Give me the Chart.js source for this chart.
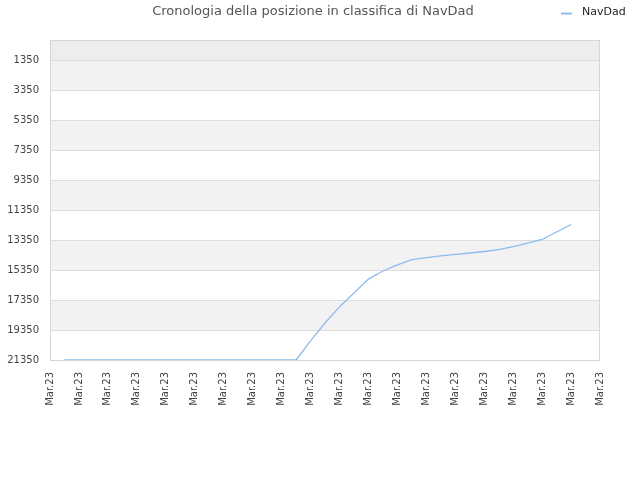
<!DOCTYPE html>
<html>
<head>
<meta charset="utf-8">
<script src="https://cdn.jsdelivr.net/npm/chart.js@4/dist/chart.umd.min.js"></script>
<style>
  html, body { margin: 0; padding: 0; background: #fff; }
  #wrap { width: 640px; height: 480px; }
</style>
</head>
<body>
<div id="wrap"><canvas id="rank-chart" width="640" height="480"></canvas></div>
<script>
// posizione in classifica di NavDad, un punto ogni mezzo tick
const xTickLabels = ['Mar.23','Mar.23','Mar.23','Mar.23','Mar.23','Mar.23','Mar.23','Mar.23','Mar.23','Mar.23',
                     'Mar.23','Mar.23','Mar.23','Mar.23','Mar.23','Mar.23','Mar.23','Mar.23','Mar.23','Mar.23'];
const yTicks = [1350, 3350, 5350, 7350, 9350, 11350, 13350, 15350, 17350, 19350, 21350];
const ranks = [21350, 21350, 21350, 21350, 21350, 21350, 21350, 21350, 21350, 21350,
               21350, 21350, 21350, 21350, 21350, 21350, 21350,
               20080, 18880, 17810, 16880, 15950, 15410, 15010, 14650, 14520,
               14410, 14310, 14210, 14110, 13980, 13780, 13550, 13310, 12810, 12310];
const seriesName = 'NavDad';
const chartTitle = 'Cronologia della posizione in classifica di NavDad';

const FONT = "'DejaVu Sans', sans-serif";
const lineColor = '#8cbcee';

// fasce alternate + cornice del grafico
const bandsPlugin = {
  id: 'bands',
  beforeDraw(chart) {
    const { ctx, chartArea: a, scales: { y } } = chart;
    ctx.save();
    // fascia sopra il primo tick
    ctx.fillStyle = '#ededed';
    ctx.fillRect(a.left, a.top, a.right - a.left, y.getPixelForValue(yTicks[0]) - a.top);
    ctx.fillStyle = '#f2f2f2';
    for (let i = 0; i < yTicks.length - 1; i += 2) {
      const t = y.getPixelForValue(yTicks[i]);
      const b = y.getPixelForValue(yTicks[i + 1]);
      ctx.fillRect(a.left, t, a.right - a.left, b - t);
    }
    ctx.restore();
  },
  afterDatasetsDraw(chart) {
    const { ctx, chartArea: a } = chart;
    ctx.save();
    ctx.strokeStyle = '#d6d6d6';
    ctx.lineWidth = 1;
    ctx.strokeRect(a.left + 0.5, a.top + 0.5, a.right - a.left - 1, a.bottom - a.top);
    ctx.restore();
  }
};

// titolo e legenda sulla stessa riga in alto
const headerPlugin = {
  id: 'header',
  afterDraw(chart) {
    const { ctx } = chart;
    const ds = chart.data.datasets[0];
    ctx.save();
    ctx.textBaseline = 'middle';
    ctx.fillStyle = '#555';
    ctx.font = '13px ' + FONT;
    ctx.textAlign = 'center';
    ctx.fillText(chartTitle, 313, 12);

    ctx.strokeStyle = ds.borderColor;
    ctx.lineWidth = 2;
    ctx.beginPath();
    ctx.moveTo(561, 13.5); ctx.lineTo(572, 13.5);
    ctx.stroke();
    ctx.fillStyle = '#222';
    ctx.font = '11px ' + FONT;
    ctx.textAlign = 'left';
    ctx.fillText(ds.label, 582, 12);
    ctx.restore();
  }
};

new Chart(document.getElementById('rank-chart'), {
  type: 'line',
  data: {
    datasets: [{
      label: seriesName,
      data: ranks.map((v, i) => ({ x: i + 1, y: v })),
      borderColor: lineColor,
      backgroundColor: lineColor,
      borderWidth: 1.3,
      pointRadius: 0,
      tension: 0,
      fill: false,
      clip: false
    }]
  },
  options: {
    responsive: false,
    animation: false,
    layout: { padding: { left: 0, right: 40, top: 40, bottom: 0 } },
    plugins: {
      legend: { display: false },
      tooltip: { enabled: false },
      title: { display: false }
    },
    scales: {
      x: {
        type: 'linear',
        min: 0,
        max: (xTickLabels.length - 1) * 2,
        afterBuildTicks: s => { s.ticks = xTickLabels.map((_, i) => ({ value: i * 2 })); },
        afterFit: s => { s.height = 120; },
        grid: { display: false, drawTicks: false },
        border: { display: false },
        ticks: {
          autoSkip: false,
          minRotation: 90,
          maxRotation: 90,
          padding: 12,
          color: '#444',
          font: { family: FONT, size: 10 },
          callback: (v, i) => xTickLabels[i]
        }
      },
      y: {
        reverse: true,
        min: 1,
        max: 21350,
        afterBuildTicks: s => { s.ticks = yTicks.map(v => ({ value: v })); },
        afterFit: s => { s.width = 50; },
        grid: { color: '#dddddd', drawTicks: false },
        border: { display: false },
        ticks: {
          padding: 11,
          color: '#444',
          font: { family: FONT, size: 10 },
          callback: v => String(v)
        }
      }
    }
  },
  plugins: [bandsPlugin, headerPlugin]
});
</script>
</body>
</html>
